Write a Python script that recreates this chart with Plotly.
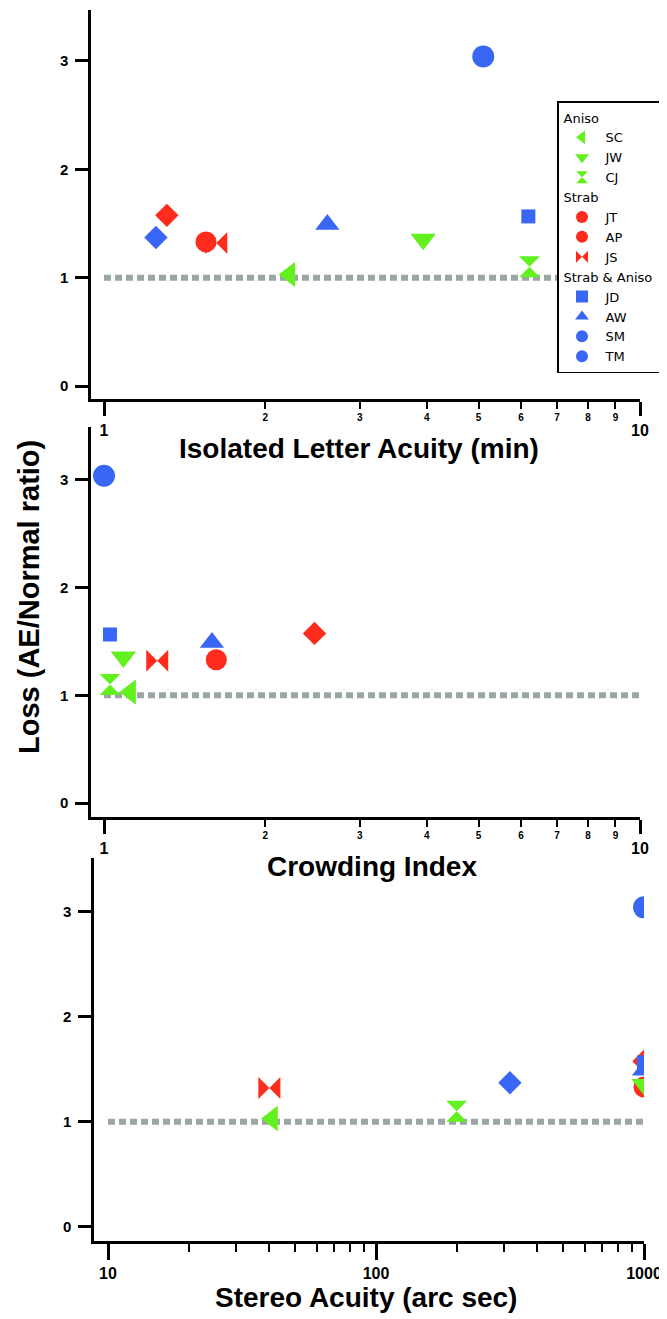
import math
import plotly.graph_objects as go

# ---------------- data ----------------
subjects = ["SC", "JW", "CJ", "JT", "AP", "JS", "JD", "AW", "SM", "TM"]
groups = ["Aniso", "Aniso", "Aniso", "Strab", "Strab", "Strab",
          "Strab & Aniso", "Strab & Aniso", "Strab & Aniso", "Strab & Aniso"]
loss = [1.03, 1.355, 1.10, 1.33, 1.575, 1.32, 1.565, 1.49, 3.04, 1.37]
letter_acuity = [2.22, 3.94, 6.22, 1.55, 1.31, 1.62, 6.19, 2.61, 5.10, 1.25]
crowding_index = [1.12, 1.087, 1.026, 1.62, 2.47, 1.257, 1.026, 1.59, 1.0, None]
stereo_acuity = [41, 1000, 200, 1000, 1000, 40, 1000, 1000, 1000, 316]

normal_ratio = [1, 1]
letter_ref_x = [1, 10]
crowding_ref_x = [1, 10]
stereo_ref_x = [10, 1000]

minor_labels = [2, 3, 4, 5, 6, 7, 8, 9]
stereo_major = [10, 100, 1000]
stereo_minor = [20, 30, 40, 50, 60, 70, 80, 90, 200, 300, 400, 500, 600, 700, 800, 900]
loss_ticks = [0, 1, 2, 3]

# ---------------- styles ----------------
GREEN = "#62f01e"
RED = "#ff2b1c"
BLUE = "#3a66f5"
group_color = {"Aniso": GREEN, "Strab": RED, "Strab & Aniso": BLUE}
symbols = ["triangle-left", "triangle-down", "hourglass", "circle", "diamond", "bowtie",
           "square", "triangle-up", "circle", "diamond"]
legend_symbols = ["triangle-left", "triangle-down", "hourglass", "circle", "circle", "bowtie",
                  "square", "triangle-up", "circle", "circle"]
sizes = [22, 22, 21, 21, 18, 22, 14, 21, 22, 18]

# the page body has an 8px margin; place the figure so that it ends at the window edge
OFF = 8
W, H = 667, 1319
FW, FH = W - OFF, H - OFF
FONT = "Liberation Sans, Arial, sans-serif"


def fx(px):
    return (px - OFF) / FW


def fy(py):
    return 1 - (py - OFF) / FH


fig = go.Figure()

panels = [("x", "y", letter_acuity, letter_ref_x),
          ("x3", "y2", crowding_index, crowding_ref_x),
          ("x5", "y3", stereo_acuity, stereo_ref_x)]

draw_order = [3, 4, 5, 0, 1, 2, 6, 7, 8, 9]

for xa, ya, xv, refx in panels:
    fig.add_trace(go.Scatter(x=refx, y=normal_ratio, mode="lines", xaxis=xa, yaxis=ya,
                             line=dict(color="#9aa5a5", width=6, dash="7px,4px"),
                             showlegend=False, hoverinfo="skip"))
    for i in draw_order:
        fig.add_trace(go.Scatter(
            x=[xv[i]], y=[loss[i]], mode="markers", xaxis=xa, yaxis=ya,
            marker=dict(symbol=symbols[i], size=sizes[i], color=group_color[groups[i]],
                        line=dict(width=0)),
            name=subjects[i], showlegend=False))

# empty traces so that the overlaid minor-label axes are drawn
fig.add_trace(go.Scatter(x=[None], y=[None], xaxis="x2", yaxis="y", showlegend=False,
                         hoverinfo="skip"))
fig.add_trace(go.Scatter(x=[None], y=[None], xaxis="x4", yaxis="y2", showlegend=False,
                         hoverinfo="skip"))

# legend entries
for i, s in enumerate(subjects):
    fig.add_trace(go.Scatter(
        x=[None], y=[None], mode="markers", xaxis="x", yaxis="y",
        marker=dict(symbol=legend_symbols[i], size=12, color=group_color[groups[i]]),
        name=s, legendgroup=groups[i], legendgrouptitle_text=groups[i],
        legendrank=i + 1, showlegend=True))

axis_common = dict(showgrid=False, zeroline=False, showline=True, linecolor="black",
                   linewidth=2.5, ticks="outside", tickcolor="black", automargin=False)
ytick_font = dict(family=FONT, size=15, color="black", weight="bold")
major_font = dict(family=FONT, size=16, color="black", weight="bold")
minor_font = dict(family=FONT, size=10, color="black", weight="bold")

top_x = [fx(91), fx(640)]
top_y = [fy(399), fy(10)]
mid_x = [fx(91), fx(640)]
mid_y = [fy(817), fy(427)]
bot_x = [fx(94), fx(644)]
bot_y = [fy(1241), fy(858)]

log_lr = [-13 / 536, 1]

minor_axis = dict(showgrid=False, zeroline=False, showline=False, ticks="outside",
                  tickcolor="black", automargin=False, type="log", range=log_lr,
                  side="bottom", tickmode="array", tickvals=minor_labels,
                  ticktext=[str(v) for v in minor_labels], ticklen=9, tickwidth=2.2,
                  tickfont=minor_font, ticklabelstandoff=0)

fig.update_layout(
    xaxis=dict(**axis_common, type="log", domain=top_x, range=log_lr, anchor="y",
               tickmode="array", tickvals=[1, 10], ticktext=["1", "10"], ticklen=14,
               tickwidth=2.5, tickfont=major_font, ticklabelstandoff=1),
    xaxis2=dict(**minor_axis, overlaying="x", anchor="y"),
    yaxis=dict(**axis_common, domain=top_y, range=[-0.12, 3.47], anchor="x",
               tickmode="array", tickvals=loss_ticks, ticklen=13, tickwidth=2.5,
               tickfont=ytick_font, ticklabelstandoff=4),
    xaxis3=dict(**axis_common, type="log", domain=mid_x, range=log_lr, anchor="y2",
                tickmode="array", tickvals=[1, 10], ticktext=["1", "10"], ticklen=14,
                tickwidth=2.5, tickfont=major_font, ticklabelstandoff=1),
    xaxis4=dict(**minor_axis, overlaying="x3", anchor="y2"),
    yaxis2=dict(**axis_common, domain=mid_y, range=[-0.13, 3.492], anchor="x3",
                tickmode="array", tickvals=loss_ticks, ticklen=13, tickwidth=2.5,
                tickfont=ytick_font, ticklabelstandoff=4),
    xaxis5=dict(**axis_common, type="log", domain=bot_x, range=[1 - 14 / 268, 3],
                anchor="y3", tickmode="array", tickvals=stereo_major,
                ticktext=[str(v) for v in stereo_major], ticklen=16, tickwidth=2.5,
                tickfont=major_font, ticklabelstandoff=0,
                minor=dict(tickmode="array", tickvals=stereo_minor, ticks="outside",
                           ticklen=8, tickwidth=2.2, tickcolor="black", showgrid=False)),
    yaxis3=dict(**axis_common, domain=bot_y, range=[-0.136, 3.51], anchor="x5",
                tickmode="array", tickvals=loss_ticks, ticklen=13, tickwidth=2.5,
                tickfont=ytick_font, ticklabelstandoff=4),
)

title_font = dict(family=FONT, size=28, color="black", weight="bold")
fig.add_annotation(text="Isolated Letter Acuity (min)", x=fx(359), y=fy(448), xref="paper",
                   yref="paper", showarrow=False, font=title_font, xanchor="center",
                   yanchor="middle")
fig.add_annotation(text="Crowding Index", x=fx(372), y=fy(866), xref="paper",
                   yref="paper", showarrow=False, font=title_font, xanchor="center",
                   yanchor="middle")
fig.add_annotation(text="Stereo Acuity (arc sec)", x=fx(366), y=fy(1297), xref="paper",
                   yref="paper", showarrow=False, font=title_font, xanchor="center",
                   yanchor="middle")
fig.add_annotation(text="Loss (AE/Normal ratio)", x=fx(29), y=fy(597), xref="paper",
                   yref="paper", showarrow=False, font=dict(family=FONT, size=29,
                                                            color="black", weight="bold"),
                   textangle=-90, xanchor="center", yanchor="middle")

fig.update_layout(
    width=FW, height=FH,
    margin=dict(l=0, r=0, t=0, b=0),
    paper_bgcolor="white", plot_bgcolor="white",
    showlegend=True,
    legend=dict(x=fx(557), y=fy(101), xanchor="left", yanchor="top",
                bordercolor="black", borderwidth=1.5, bgcolor="white",
                font=dict(family="DejaVu Sans, sans-serif", size=13, color="black"),
                grouptitlefont=dict(family="DejaVu Sans, sans-serif", size=13, color="black"),
                itemsizing="constant", tracegroupgap=0, traceorder="grouped",
                itemwidth=37),
)

fig.write_html(
    "out.html",
    post_script="document.documentElement.style.overflow='hidden';"
                "document.body.style.overflow='hidden';",
)
